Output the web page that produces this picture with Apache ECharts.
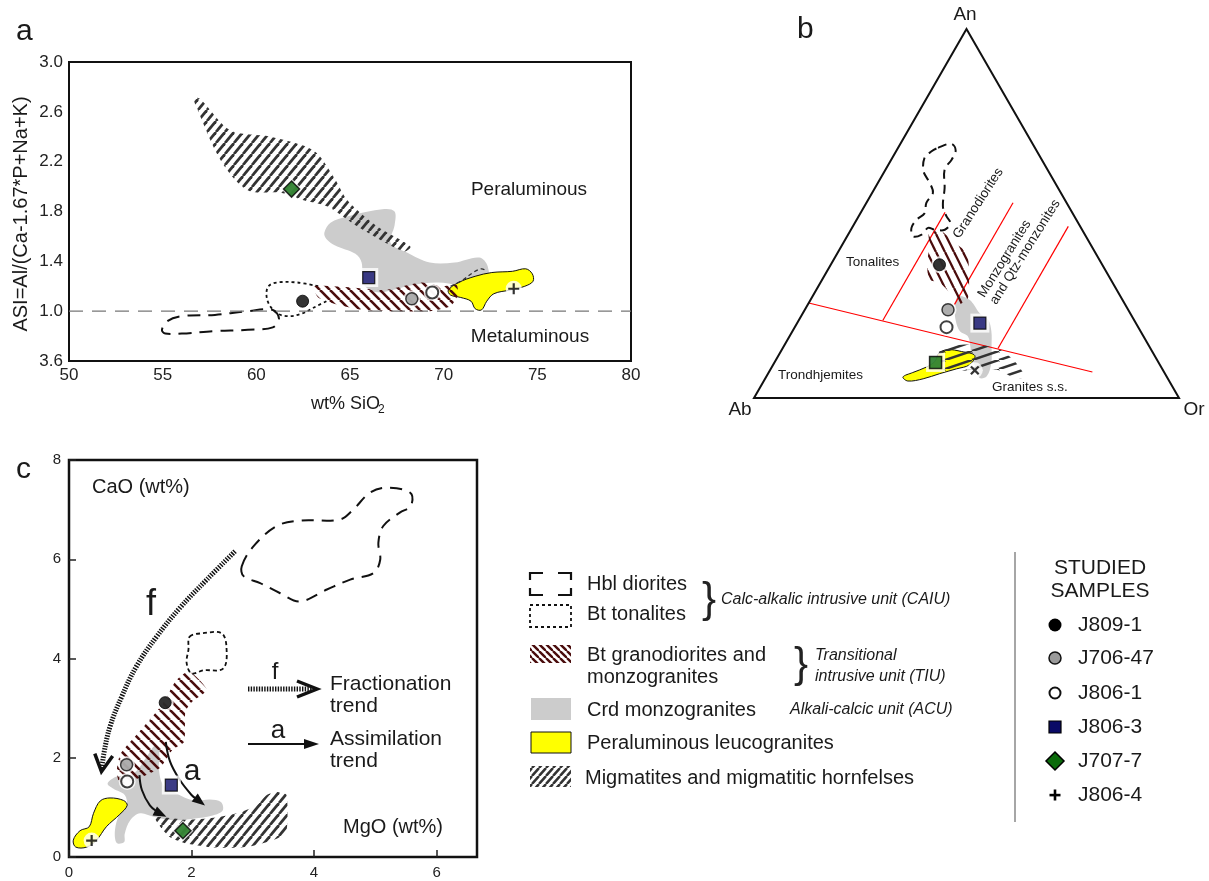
<!DOCTYPE html>
<html><head><meta charset="utf-8">
<script src="https://cdn.jsdelivr.net/npm/echarts@6/dist/echarts.min.js"></script>
<style>html,body{margin:0;padding:0;background:#fff}#c{width:1209px;height:881px}</style>
</head><body><div id="c"></div>
<script>
// ---------------- DATA ----------------
// Panel a : ASI vs SiO2
const yTickLabelsA = ['3.6','1.0','1.4','1.8','2.2','2.6','3.0']; // printed labels at 0.6..3.0 step 0.4
const migmatitesA = [[56.66,2.72],[57.03,2.70],[58.63,2.45],[60.76,2.40],[63.05,2.29],[64.12,2.08],[64.86,1.89],[66.46,1.68],[68.22,1.52],[67.85,1.48],[65.40,1.68],[63.80,1.84],[62.52,1.89],[61.29,1.95],[59.54,1.97],[58.10,2.21],[56.77,2.65]];
const crdA = [[63.63,1.63],[63.96,1.71],[64.85,1.76],[66.83,1.82],[67.38,1.80],[67.38,1.69],[67.16,1.55],[68.04,1.47],[69.26,1.39],[70.58,1.39],[71.9,1.43],[72.35,1.36],[72.39,1.20],[72.13,1.13],[71.46,1.12],[70.8,1.20],[69.7,1.23],[68.38,1.21],[67.27,1.17],[66.61,1.15],[66.06,1.17],[65.68,1.23],[65.62,1.39],[65.29,1.46],[64.18,1.53],[63.74,1.58]];
const leucoA = [[70.25,1.17],[70.8,1.23],[71.68,1.28],[72.57,1.31],[73.67,1.32],[74.38,1.34],[74.73,1.30],[74.77,1.24],[74.33,1.20],[73.56,1.17],[72.68,1.14],[72.3,1.08],[72.02,1.01],[71.68,1.02],[71.46,1.08],[70.91,1.11],[70.36,1.13]];
const granodA = [[63.08,1.20],[65.07,1.19],[66.83,1.17],[68.82,1.23],[69.92,1.20],[70.69,1.21],[70.76,1.13],[70.36,1.04],[69.26,1.00],[67.27,1.00],[65.73,1.01],[64.40,1.05],[63.30,1.11]];
const tonaliteA1 = [[63.74,1.08],[63.08,1.03],[62.42,0.98],[61.76,0.96],[61.14,0.98],[60.70,1.05],[60.54,1.13],[60.65,1.20],[61.10,1.23],[62.20,1.23],[63.30,1.20]];
const tonaliteA2 = [[70.36,1.20],[71.02,1.25],[71.57,1.31],[72.02,1.34],[72.30,1.32]];
const dioriteA = [[61.21,0.94],[60.88,1.01],[59.55,1.00],[57.79,0.97],[56.02,0.96],[55.25,0.92],[54.96,0.85],[55.14,0.82],[56.02,0.82],[57.79,0.84],[59.55,0.85],[60.88,0.87]];
const asiLine = [[50,1.0],[80,1.0]];

// Panel b : An-Ab-Or ternary, points as [An %, Or %]
const triangleB = [[100,0],[0,0],[0,100]];
const redLineB1 = [[25.75,0],[7.05,76.1]];
const redLineB2 = [[21.0,19.8],[50.3,19.8]];
const redLineB3 = [[25.3,34.5],[52.9,34.5]];
const redLineB4 = [[13.4,50.7],[46.5,50.7]];
const dioriteB = [[67.8,9.4],[68.9,12.0],[67.1,13.9],[64.6,14.2],[61.9,13.9],[56.9,16.4],[51.9,18.5],[49.2,20.7],[47.4,22.5],[45.6,22.1],[45.6,19.7],[46.1,17.9],[44.3,17.3],[43.8,15.5],[46.1,14.0],[48.3,14.1],[50.1,15.1],[52.9,14.1],[55.6,14.3],[58.3,12.2],[61.4,9.2],[65.0,7.6],[66.8,8.3]];
const granodB = [[44.7,18.8],[45.2,21.5],[42.0,26.2],[39.3,30.5],[33.0,34.1],[27.1,36.8],[25.3,35.4],[28.5,31.8],[31.2,28.1],[32.1,25.2],[36.6,22.4],[41.1,20.8]];
const crdB = [[27.5,34.2],[26.6,37.4],[23.0,41.6],[21.2,44.5],[18.1,46.8],[14.0,48.9],[9.5,51.1],[5.9,51.8],[5.4,50.4],[7.7,48.5],[11.3,45.5],[14.0,43.9],[16.7,42.0],[18.1,39.4],[20.8,37.1],[23.9,35.3]];
const leucoB = [[5.7,32.2],[6.9,33.9],[8.4,36.4],[9.9,37.6],[12.2,37.4],[13.1,39.1],[12.6,42.5],[11.5,46.2],[9.0,46.2],[7.9,43.7],[6.6,40.4],[5.2,37.2],[4.6,33.9]];
const migmatitesB = [[13.6,36.9],[14.4,41.2],[14.4,45.9],[13.1,51.3],[10.4,55.8],[5.9,60.8],[5.2,59.2],[7.7,53.2],[7.7,48.5],[7.2,44.0],[7.2,41.3],[10.4,38.5]];

// Panel c : CaO vs MgO
const dioriteC = [[2.82,5.86],[3.01,6.26],[3.39,6.67],[3.77,6.78],[4.42,6.80],[4.64,7.00],[4.91,7.34],[5.18,7.44],[5.57,7.34],[5.58,7.07],[5.40,6.94],[5.13,6.67],[5.05,6.33],[5.08,5.99],[4.97,5.72],[4.59,5.59],[4.21,5.39],[3.77,5.15],[3.44,5.32],[3.12,5.52],[2.85,5.66]];
const tonaliteC = [[1.97,4.44],[2.19,4.51],[2.49,4.51],[2.57,4.24],[2.52,3.80],[2.19,3.76],[2.00,3.70],[1.92,3.91],[1.95,4.18]];
const granodC = [[1.96,3.74],[2.25,3.37],[2.01,3.13],[1.90,2.93],[1.88,2.32],[1.69,2.16],[1.49,1.80],[1.20,1.62],[0.84,1.47],[0.78,1.72],[0.84,2.08],[1.15,2.53],[1.52,3.07],[1.74,3.54]];
const crdC = [[0.63,1.48],[0.78,1.62],[1.05,1.68],[1.27,2.02],[1.40,2.24],[1.47,2.15],[1.47,1.75],[1.54,1.45],[1.76,1.28],[2.03,1.14],[2.30,1.16],[2.48,1.11],[2.51,0.94],[2.36,0.84],[2.03,0.77],[1.70,0.74],[1.38,0.81],[1.16,0.88],[1.00,0.74],[0.91,0.47],[0.90,0.30],[0.78,0.28],[0.75,0.54],[0.83,0.88],[0.94,1.04],[0.91,1.25],[0.72,1.38]];
const leucoC = [[0.07,0.34],[0.18,0.53],[0.33,0.61],[0.40,0.88],[0.51,1.13],[0.67,1.19],[0.89,1.14],[0.95,1.04],[0.83,0.86],[0.61,0.61],[0.45,0.34],[0.29,0.20],[0.11,0.20]];
const migmatitesC = [[1.40,0.81],[1.92,0.75],[2.36,0.79],[2.74,0.88],[3.06,1.04],[3.23,1.25],[3.39,1.31],[3.55,1.25],[3.55,0.51],[3.39,0.37],[2.90,0.20],[2.36,0.19],[1.92,0.27],[1.65,0.40],[1.49,0.61]];
const fracTrendC = [[2.71,6.16],[2.25,5.59],[1.81,5.02],[1.43,4.44],[1.10,3.84],[0.86,3.23],[0.67,2.63],[0.57,2.09],[0.53,1.72]];
const assimTrendC1 = [[1.58,2.32],[1.65,1.92],[1.81,1.55],[2.00,1.25],[2.22,1.04]];
const assimTrendC2 = [[1.15,1.65],[1.19,1.35],[1.32,1.04],[1.46,0.89],[1.59,0.81]];

// Studied samples
const sampleNames = ['J809-1','J706-47','J806-1','J806-3','J707-7','J806-4'];
const samplesA = [[62.47,1.08],[68.3,1.10],[69.39,1.15],[66.0,1.27],[61.88,1.98],[73.74,1.18]];
const samplesB = [[36.1,25.6],[23.9,33.7],[19.2,35.7],[20.3,43.0],[9.65,37.9],[7.5,48.2]];
const samplesC = [[1.57,3.11],[0.94,1.86],[0.95,1.52],[1.67,1.45],[1.86,0.53],[0.37,0.33]];

// ---------------- STYLE ----------------
const FONT = '"Liberation Sans", Arial, Helvetica, sans-serif';
const MAROON = '#4a0c0c', DARK = '#333', GRAYF = '#cccccc', YEL = '#ffff00';
const CROSS = 'path://M4,0H6V4H10V6H6V10H4V6H0V4H4Z';

function hatch(W, H, dir, color, lw, bg) {
  const c = document.createElement('canvas'); c.width = W; c.height = H;
  const g = c.getContext('2d');
  if (bg) { g.fillStyle = bg; g.fillRect(0, 0, W, H); }
  g.strokeStyle = color; g.lineWidth = lw;
  for (const o of [-1, 0, 1]) {
    g.beginPath();
    if (dir === '/') { g.moveTo(o * W, H); g.lineTo(o * W + W, 0); }
    else { g.moveTo(o * W, 0); g.lineTo(o * W + W, H); }
    g.stroke();
  }
  return { image: c, repeat: 'repeat' };
}
const patMaroon45 = hatch(10, 10, '\\', MAROON, 2.6);
const patMig45 = hatch(9, 11, '/', DARK, 2.7);
const patMaroonSteep = hatch(9, 18, '\\', MAROON, 2.3);
const patMigShallow = hatch(27, 9, '/', DARK, 2.6);
const patMaroonLeg = hatch(7, 7, '\\', MAROON, 2.4);
const patMigLeg = hatch(7, 8, '/', DARK, 2.5);

const toT = p => [p[1] / 100 + p[0] / 200, p[0] / 100];

function shape(gi, pts, o) {
  const tr = o.tr || (p => p);
  return {
    type: 'custom', xAxisIndex: gi, yAxisIndex: gi, z: o.z || 2, silent: true, animation: false,
    data: [tr(pts[0])],
    renderItem: (params, api) => ({
      type: o.open ? 'polyline' : 'polygon',
      shape: { points: pts.map(p => api.coord(tr(p))), smooth: o.smooth == null ? 0.35 : o.smooth },
      style: { fill: o.fill || 'none', stroke: o.stroke || 'none', lineWidth: o.lw || 1, lineDash: o.dash || null }
    })
  };
}

function arrow(gi, pts, o) {
  return {
    type: 'custom', xAxisIndex: gi, yAxisIndex: gi, z: o.z || 8, silent: true, animation: false,
    data: [pts[0]],
    renderItem: (params, api) => {
      const P = pts.map(q => api.coord(q));
      const T = P[P.length - 1], Q = P[P.length - 2];
      let dx = T[0] - Q[0], dy = T[1] - Q[1]; const L = Math.hypot(dx, dy); dx /= L; dy /= L;
      const nx = -dy, ny = dx;
      const bx = T[0] - dx * o.len, by = T[1] - dy * o.len;
      const a = [bx + nx * o.hw, by + ny * o.hw], b = [bx - nx * o.hw, by - ny * o.hw];
      const end = o.head === 'fill' ? [bx + dx * 2, by + dy * 2] : [T[0] - dx * 3, T[1] - dy * 3];
      const line = P.slice(0, -1).concat([end]);
      const ch = [{ type: 'polyline', shape: { points: line, smooth: 0.4 }, style: { stroke: '#111', lineWidth: o.lw, lineDash: o.dash || null, fill: 'none' } }];
      if (o.head === 'fill') ch.push({ type: 'polygon', shape: { points: [T, a, b] }, style: { fill: '#111' } });
      else ch.push({ type: 'polyline', shape: { points: [a, T, b] }, style: { stroke: '#111', lineWidth: o.hlw, fill: 'none' } });
      return { type: 'group', children: ch };
    }
  };
}

const symStyle = [
  { symbol: 'circle', size: 12, color: '#000', border: '#000', bw: 1 },
  { symbol: 'circle', size: 12, color: '#9a9a9a', border: '#111', bw: 1.5 },
  { symbol: 'circle', size: 12, color: '#fff', border: '#111', bw: 2 },
  { symbol: 'rect', size: 12, color: '#0a0a66', border: '#000', bw: 1.2 },
  { symbol: 'diamond', size: 16, color: '#0b6b0b', border: '#000', bw: 1.5 },
  { symbol: CROSS, size: 11, color: '#000', border: '#000', bw: 0 }
];
function sampleSeries(gi, pts, tr, variant) {
  tr = tr || (p => p);
  const items = [], halos = [];
  pts.forEach((p, i) => {
    let s = Object.assign({}, symStyle[i]);
    let rot = 0;
    if (variant === 'b' && i === 4) { s.symbol = 'rect'; s.size = 12; }
    if (variant === 'b' && i === 5) { rot = 45; }
    items.push({ value: tr(p), symbol: s.symbol, symbolSize: s.size, symbolRotate: rot,
      itemStyle: { color: s.color, borderColor: s.border, borderWidth: s.bw } });
    halos.push({ value: tr(p), symbol: s.symbol === CROSS ? 'circle' : s.symbol, symbolSize: s.size + (i === 3 || (variant === 'b' && i === 4) ? 7 : 5),
      itemStyle: { color: '#fff' } });
  });
  return [
    { type: 'scatter', xAxisIndex: gi, yAxisIndex: gi, z: 10, silent: true, data: halos, animation: false },
    { type: 'scatter', xAxisIndex: gi, yAxisIndex: gi, z: 11, silent: true, data: items, animation: false }
  ];
}

function T(text, x, y, fs, o) {
  o = o || {};
  return { type: 'text', x, y, rotation: o.rot || 0, z: 100, silent: true,
    style: { text, fontSize: fs, fontFamily: FONT, fontStyle: o.italic ? 'italic' : 'normal', fontWeight: o.weight || 'normal',
      fill: o.color || '#1a1a1a', align: o.align || 'left', verticalAlign: o.va || 'middle' } };
}
function PL(points, stroke, lw, dash) {
  return { type: 'polyline', z: 100, silent: true, shape: { points }, style: { stroke, lineWidth: lw, lineDash: dash || null, fill: 'none' } };
}
function R(x, y, w, h, fill, stroke, lw, dash) {
  return { type: 'rect', z: 100, silent: true, shape: { x, y, width: w, height: h }, style: { fill: fill || 'none', stroke: stroke || 'none', lineWidth: lw || 0, lineDash: dash || null } };
}

// ---------------- GRAPHIC (texts, legend) ----------------
const deg = Math.PI / 180;
const graphics = [
  T('a', 16, 32, 30), T('b', 797, 30, 30), T('c', 16, 470, 30),
  // panel a
  T('ASI=Al/(Ca-1.67*P+Na+K)', 21, 214, 20, { rot: 90 * deg, align: 'center' }),
  T('wt% SiO', 311, 404, 18), T('2', 378, 410, 12),
  T('Peraluminous', 529, 190, 19, { align: 'center' }),
  T('Metaluminous', 530, 337, 19, { align: 'center' }),
  // panel b
  T('An', 965, 15, 19, { align: 'center' }), T('Ab', 740, 410, 19, { align: 'center' }), T('Or', 1194, 410, 19, { align: 'center' }),
  T('Tonalites', 846, 262, 13.5), T('Trondhjemites', 778, 375, 13.5), T('Granites s.s.', 992, 387, 13.5),
  T('Granodiorites', 962, 241, 13.5, { rot: 57 * deg, va: 'bottom' }),
  T('Monzogranites', 987, 300, 13.5, { rot: 58 * deg, va: 'bottom' }),
  T('and Qtz-monzonites', 999, 307, 13.5, { rot: 58 * deg, va: 'bottom' }),
  // panel c
  T('CaO (wt%)', 92, 487, 20), T('MgO (wt%)', 343, 827, 20),
  T('f', 151, 605, 36, { align: 'center' }), T('a', 192, 772, 30, { align: 'center' }),
  T('f', 275, 672, 24, { align: 'center' }), T('a', 278, 731, 26, { align: 'center' }),
  PL([[248, 689], [313, 689]], '#111', 5, [1.4, 1.3]),
  PL([[297, 681], [317, 689], [297, 697]], '#111', 3.5),
  PL([[248, 744], [307, 744]], '#111', 2),
  { type: 'polygon', z: 100, silent: true, shape: { points: [[319, 744], [304, 739], [304, 749]] }, style: { fill: '#111' } },
  T('Fractionation', 330, 684, 21), T('trend', 330, 706, 21),
  T('Assimilation', 330, 739, 21), T('trend', 330, 761, 21),
  // legend of fields
  PL([[530, 580], [530, 573], [543, 573]], '#111', 2.2), PL([[558, 573], [571, 573], [571, 580]], '#111', 2.2),
  PL([[530, 588], [530, 595], [543, 595]], '#111', 2.2), PL([[558, 595], [571, 595], [571, 588]], '#111', 2.2),
  R(530, 605, 41, 22, 'none', '#111', 1.8, [3, 3]),
  R(530, 645, 41, 18, patMaroonLeg),
  R(531, 698, 40, 22, GRAYF),
  R(531, 732, 40, 21, YEL, '#111', 1),
  R(530, 766, 41, 21, patMigLeg),
  T('Hbl diorites', 587, 584, 20), T('Bt tonalites', 587, 614, 20),
  T('}', 702, 600, 42, { color: '#222', weight: 300 }),
  T('Calc-alkalic intrusive unit (CAIU)', 721, 600, 16, { italic: true }),
  T('Bt granodiorites and', 587, 655, 20), T('monzogranites', 587, 677, 20),
  T('}', 794, 665, 42, { color: '#222', weight: 300 }),
  T('Transitional', 815, 656, 16, { italic: true }), T('intrusive unit (TIU)', 815, 677, 16, { italic: true }),
  T('Crd monzogranites', 587, 710, 20), T('Alkali-calcic unit (ACU)', 790, 710, 16, { italic: true }),
  T('Peraluminous leucogranites', 587, 743, 20),
  T('Migmatites and migmatitic hornfelses', 585, 778, 20),
  // studied samples
  PL([[1015, 552], [1015, 822]], '#888', 1.5),
  T('STUDIED', 1100, 568, 21, { align: 'center' }), T('SAMPLES', 1100, 591, 21, { align: 'center' }),
  { type: 'circle', z: 100, silent: true, shape: { cx: 1055, cy: 625, r: 6.5 }, style: { fill: '#000' } },
  { type: 'circle', z: 100, silent: true, shape: { cx: 1055, cy: 658, r: 6 }, style: { fill: '#9a9a9a', stroke: '#111', lineWidth: 1.5 } },
  { type: 'circle', z: 100, silent: true, shape: { cx: 1055, cy: 693, r: 5.5 }, style: { fill: '#fff', stroke: '#111', lineWidth: 2 } },
  R(1049, 721, 12, 12, '#0a0a66', '#000', 1.2),
  { type: 'polygon', z: 100, silent: true, shape: { points: [[1055, 752], [1064, 761], [1055, 770], [1046, 761]] }, style: { fill: '#0b6b0b', stroke: '#000', lineWidth: 1.5 } },
  R(1049.5, 793.8, 11, 2.6, '#000'), R(1053.7, 789.5, 2.6, 11, '#000')
];
sampleNames.forEach((n, i) => graphics.push(T(n, 1078, [625, 658, 693, 727, 761, 795][i], 21)));

// ---------------- OPTION ----------------
const axisLbl = { fontFamily: FONT, color: '#222' };
const option = {
  animation: false,
  backgroundColor: '#fff',
  grid: [
    { left: 69, top: 62, width: 562, height: 299, show: true, borderColor: '#111', borderWidth: 2, backgroundColor: 'transparent' },
    { left: 754, top: 29, width: 425, height: 369, show: false },
    { left: 69, top: 460, width: 408, height: 397, show: true, borderColor: '#111', borderWidth: 2.5, backgroundColor: 'transparent' }
  ],
  xAxis: [
    { gridIndex: 0, type: 'value', min: 50, max: 80, interval: 5, axisLine: { show: false }, axisTick: { show: false }, splitLine: { show: false },
      axisLabel: Object.assign({ fontSize: 17, margin: 6 }, axisLbl) },
    { gridIndex: 1, type: 'value', min: 0, max: 1, show: false },
    { gridIndex: 2, type: 'value', min: 0, max: 6.66, interval: 2, axisLine: { show: false }, splitLine: { show: false },
      axisTick: { show: true, inside: true, length: 7, customValues: [0, 2, 4, 6], lineStyle: { color: '#222', width: 1.5 } },
      axisLabel: Object.assign({ fontSize: 15, margin: 8, customValues: [0, 2, 4, 6],
        formatter: v => (Math.abs(v - Math.round(v)) < 1e-6 && Math.round(v) % 2 === 0) ? String(Math.round(v)) : '' }, axisLbl) }
  ],
  yAxis: [
    { gridIndex: 0, type: 'value', min: 0.6, max: 3.0, interval: 0.2, axisLine: { show: false }, axisTick: { show: false }, splitLine: { show: false },
      axisLabel: Object.assign({ fontSize: 17, margin: 6,
        formatter: v => { const k = Math.round((v - 0.6) / 0.2); return k % 2 === 0 ? yTickLabelsA[k / 2] : ''; } }, axisLbl) },
    { gridIndex: 1, type: 'value', min: 0, max: 1, show: false },
    { gridIndex: 2, type: 'value', min: 0, max: 8, interval: 2, axisLine: { show: false }, splitLine: { show: false },
      axisTick: { show: true, inside: true, length: 7, lineStyle: { color: '#222', width: 1.5 } },
      axisLabel: Object.assign({ fontSize: 15, margin: 8 }, axisLbl) }
  ],
  graphic: { elements: graphics },
  series: [
    // ---- panel a
    shape(0, dioriteA, { stroke: '#111', lw: 2, dash: [13, 8], z: 2 }),
    shape(0, tonaliteA1, { stroke: '#111', lw: 1.8, dash: [3, 3], open: true, z: 2 }),
    shape(0, crdA, { fill: GRAYF, z: 3 }),
    shape(0, leucoA, { fill: YEL, stroke: '#111', lw: 1, z: 4 }),
    shape(0, granodA, { fill: patMaroon45, z: 5, smooth: 0.2 }),
    shape(0, tonaliteA2, { stroke: '#333', lw: 1.3, dash: [4, 3], open: true, z: 6 }),
    shape(0, migmatitesA, { fill: patMig45, z: 6, smooth: 0.3 }),
    shape(0, asiLine, { stroke: '#777', lw: 1.4, dash: [14, 9], open: true, smooth: 0, z: 7 }),
    ...sampleSeries(0, samplesA),
    // ---- panel b
    shape(1, crdB, { fill: GRAYF, z: 3, tr: toT }),
    shape(1, leucoB, { fill: YEL, stroke: '#111', lw: 1, z: 4, tr: toT }),
    shape(1, redLineB1, { stroke: '#ff0000', lw: 1.2, open: true, smooth: 0, z: 5, tr: toT }),
    shape(1, redLineB2, { stroke: '#ff0000', lw: 1.2, open: true, smooth: 0, z: 5, tr: toT }),
    shape(1, redLineB3, { stroke: '#ff0000', lw: 1.2, open: true, smooth: 0, z: 5, tr: toT }),
    shape(1, redLineB4, { stroke: '#ff0000', lw: 1.2, open: true, smooth: 0, z: 5, tr: toT }),
    shape(1, granodB, { fill: patMaroonSteep, z: 6, smooth: 0.2, tr: toT }),
    shape(1, migmatitesB, { fill: patMigShallow, z: 6, smooth: 0.2, tr: toT }),
    shape(1, dioriteB, { stroke: '#111', lw: 2, dash: [9, 6], z: 6, tr: toT }),
    shape(1, triangleB, { stroke: '#111', lw: 2, smooth: 0, z: 7, tr: toT }),
    ...sampleSeries(1, samplesB, toT, 'b'),
    // ---- panel c
    shape(2, crdC, { fill: GRAYF, z: 3 }),
    shape(2, leucoC, { fill: YEL, stroke: '#111', lw: 1, z: 4 }),
    shape(2, granodC, { fill: patMaroon45, z: 5, smooth: 0.2 }),
    shape(2, migmatitesC, { fill: patMig45, z: 5, smooth: 0.2 }),
    shape(2, dioriteC, { stroke: '#111', lw: 2, dash: [12, 8], z: 6 }),
    shape(2, tonaliteC, { stroke: '#111', lw: 1.8, dash: [4, 3], z: 6 }),
    arrow(2, fracTrendC, { lw: 5, dash: [1.4, 1.3], head: 'chevron', len: 17, hw: 9, hlw: 3.5 }),
    arrow(2, assimTrendC1, { lw: 2, head: 'fill', len: 13, hw: 5 }),
    arrow(2, assimTrendC2, { lw: 2, head: 'fill', len: 13, hw: 5 }),
    ...sampleSeries(2, samplesC)
  ]
};
const chart = echarts.init(document.getElementById('c'), null, { renderer: 'canvas' });
chart.setOption(option);
</script>
</body></html>
